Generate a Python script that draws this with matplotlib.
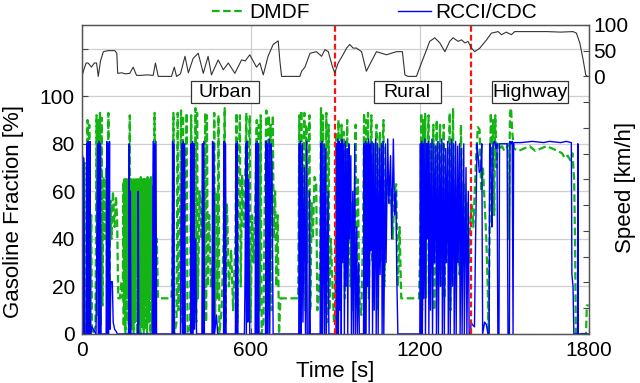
import numpy as np
import matplotlib

matplotlib.use("Agg")
import matplotlib.pyplot as plt
from matplotlib.patches import Rectangle
from matplotlib.ticker import FixedLocator, FixedFormatter

plt.rcParams["font.family"] = ["Liberation Sans", "DejaVu Sans"]

# DMDF gasoline fraction [%] as (time s, value) pairs
DMDF_URBAN = [
    (0, 25), (3, 70), (6, 8), (9, 72), (12, 0), (16, 3), (20, 90), (23, 0), (26, 88), (29, 4),
    (33, 50), (36, 0), (48, 3), (52, 92), (55, 8), (58, 90), (61, 18), (64, 93), (67, 4),
    (70, 91), (73, 12), (77, 66), (81, 40), (86, 70), (90, 5), (94, 93), (97, 12), (101, 56),
    (105, 40), (110, 60), (116, 45), (121, 58), (125, 48), (129, 15), (135, 15), (140, 22),
    (145, 15), (147, 64), (148.5, 3), (150, 65), (151.5, 10), (153, 63), (154.5, 0),
    (156, 66), (157.5, 15), (159, 64), (160.5, 5), (162, 65), (163.5, 20), (165, 62),
    (166.5, 0), (168, 60), (170, 92), (171.5, 5), (173, 65), (174.5, 15), (176, 64),
    (177.5, 2), (179, 66), (180.5, 10), (182, 63), (183.5, 0), (185, 65), (186.5, 20),
    (188, 64), (189.5, 5), (191, 65), (192.5, 12), (194, 63), (195.5, 0), (197, 66),
    (198.5, 25), (200, 64), (201.5, 5), (203, 65), (204.5, 15), (206, 62), (207.5, 0),
    (209, 66), (210.5, 10), (212, 64), (213.5, 3), (215, 65), (216.5, 18), (218, 63),
    (219.5, 0), (221, 66), (222.5, 12), (224, 64), (225.5, 2), (227, 65), (228.5, 20),
    (230, 63), (231.5, 0), (233, 66), (234.5, 15), (236, 64), (237.5, 5), (239, 65),
    (240.5, 22), (242, 63), (243.5, 0), (245, 66), (246.5, 15), (248, 62), (249.5, 3),
    (251, 60), (254, 55), (258, 93), (262, 5), (266, 40),
    (270, 15), (318, 15), (322, 30), (325, 93), (328, 0), (336, 5), (340, 93), (343, 10),
    (348, 40), (352, 94), (355, 5), (359, 92), (362, 20), (367, 60), (372, 93), (375, 0),
    (384, 3), (388, 92), (391, 10), (395, 65), (399, 30), (403, 95), (406, 5), (409, 93),
    (412, 15), (418, 60), (424, 40), (430, 63), (434, 10), (438, 93), (441, 5), (444, 92),
    (447, 20), (452, 50), (458, 20), (466, 30), (470, 93), (473, 5), (477, 60), (481, 15),
    (485, 92), (488, 0), (496, 10), (503, 40), (507, 95), (510, 5), (515, 55), (522, 20),
    (530, 35), (537, 10), (545, 40), (549, 93), (552, 5), (556, 66), (561, 92), (564, 20),
    (569, 67), (575, 45), (580, 68), (584, 93), (587, 10), (591, 66), (596, 92), (599, 5),
    (604, 50), (610, 30), (616, 60), (621, 90), (624, 5), (628, 88), (631, 10), (635, 92),
    (638, 0), (645, 5), (650, 65), (655, 94), (658, 10), (663, 92), (666, 30), (670, 88),
    (674, 10), (678, 92), (681, 40), (686, 60), (690, 20), (695, 50), (700, 0), (705, 15),
    (768, 15), (772, 92), (775, 5), (779, 94), (782, 20), (786, 70), (790, 93), (793, 10),
    (797, 88), (800, 30), (804, 65), (808, 92), (811, 10), (816, 55), (820, 40), (826, 66),
    (832, 64), (836, 10), (840, 15), (846, 30), (849, 95), (852, 5), (856, 92), (859, 20),
    (864, 60), (868, 93), (871, 5), (876, 88), (879, 10), (884, 40), (890, 20), (895, 5),
    (900, 10),
]
DMDF_RURAL = [
    (904, 85), (907, 10), (911, 90), (914, 20), (918, 70), (922, 88), (925, 40), (930, 85),
    (934, 15), (938, 60), (942, 90), (945, 30), (950, 70), (954, 20), (958, 55), (963, 10),
    (968, 45), (972, 88), (975, 25), (980, 65), (985, 15), (992, 8), (998, 40), (1002, 93),
    (1005, 20), (1009, 90), (1012, 40), (1016, 93), (1019, 15), (1024, 70), (1028, 92),
    (1031, 30), (1036, 80), (1040, 45), (1046, 88), (1049, 10), (1054, 60), (1058, 85),
    (1062, 30), (1066, 75), (1071, 90), (1074, 20), (1080, 65), (1086, 60), (1092, 55),
    (1098, 62), (1104, 40), (1110, 60), (1116, 63), (1122, 20), (1128, 45), (1134, 15),
    (1140, 15), (1197, 15), (1202, 40), (1205, 93), (1208, 10), (1212, 90), (1215, 30),
    (1219, 93), (1222, 15), (1227, 70), (1231, 92), (1234, 25), (1239, 80), (1243, 40),
    (1248, 88), (1251, 10), (1256, 60), (1260, 90), (1263, 30), (1268, 75), (1272, 88),
    (1275, 20), (1280, 65), (1285, 88), (1288, 15), (1293, 62), (1298, 63), (1302, 30),
    (1306, 93), (1309, 10), (1314, 60), (1318, 95), (1321, 20), (1326, 63), (1331, 40),
    (1336, 62), (1341, 25), (1346, 88), (1350, 45), (1356, 63), (1362, 40), (1368, 55),
    (1374, 30), (1380, 50),
]
DMDF_HIGHWAY = [
    (1385, 55), (1390, 45), (1395, 60), (1400, 75), (1406, 87), (1412, 86), (1418, 60),
    (1424, 70), (1430, 55), (1436, 40), (1441, 20), (1444, 0), (1448, 45), (1452, 93),
    (1456, 70), (1460, 90), (1464, 50), (1468, 92), (1472, 70), (1477, 80), (1484, 78),
    (1492, 79), (1500, 77), (1508, 78), (1513, 80), (1516, 40), (1520, 93), (1524, 95),
    (1528, 85), (1534, 78), (1550, 77), (1570, 78), (1590, 79), (1610, 77), (1630, 78),
    (1650, 79), (1670, 78), (1690, 77), (1705, 76), (1715, 74), (1725, 75), (1735, 73),
    (1742, 76), (1748, 65), (1751, 40), (1754, 0), (1790, 0), (1793, 12), (1800, 12),
]

# RCCI/CDC gasoline fraction [%]
RCCI_URBAN = [
    (0, 0), (2, 75), (4, 0), (7, 74), (9, 0), (15, 0), (17, 80), (19, 0), (21, 81), (23, 0),
    (25, 80), (27, 0), (29, 81), (31, 0), (35, 3), (50, 0), (56, 80), (58, 0), (61, 81),
    (63, 0), (66, 80), (68, 0), (86, 0), (88, 81), (90, 0), (93, 80), (95, 0), (98, 81),
    (100, 2), (103, 22), (108, 22), (111, 5), (116, 2), (122, 1), (126, 0), (166, 0),
    (168, 80), (170, 0), (172, 60), (174, 0), (198, 0), (200, 60), (202, 0), (250, 0),
    (253, 81), (255, 0), (258, 80), (260, 0), (263, 81), (265, 0), (320, 0), (322, 81),
    (324, 0), (326, 80), (328, 0), (350, 0), (352, 45), (355, 80), (357, 0), (360, 81),
    (362, 0), (365, 80), (367, 0), (386, 0), (388, 80), (390, 0), (393, 81), (395, 0),
    (398, 80), (400, 2), (404, 40), (407, 0), (426, 0), (428, 80), (430, 0), (433, 81),
    (435, 0), (462, 0), (464, 81), (466, 0), (469, 80), (471, 0), (478, 8), (482, 0),
    (503, 0), (505, 81), (507, 0), (510, 80), (512, 0), (545, 0), (547, 80), (549, 0),
    (552, 81), (554, 0), (577, 0), (579, 20), (582, 80), (584, 0), (587, 81), (589, 5),
    (592, 65), (596, 0), (615, 0), (617, 80), (619, 0), (622, 81), (624, 0), (627, 80),
    (629, 0), (652, 0), (654, 81), (656, 0), (659, 80), (661, 0), (665, 82), (667, 0),
    (672, 80), (675, 70), (679, 0), (770, 0), (772, 80), (774, 0), (777, 81), (779, 0),
    (783, 80), (785, 5), (790, 70), (794, 0), (798, 81), (800, 0), (806, 0), (808, 60),
    (811, 0), (846, 0), (848, 80), (850, 0), (853, 81), (855, 0), (860, 80), (862, 0),
    (866, 78), (868, 0), (874, 60), (877, 0), (900, 0),
]
RCCI_RURAL = [
    (902, 0), (904, 80), (906, 0), (909, 82), (911, 0), (914, 81), (916, 10), (919, 80),
    (921, 0), (924, 82), (926, 30), (930, 80), (932, 0), (936, 81), (938, 20), (942, 78),
    (944, 0), (948, 80), (950, 40), (955, 75), (957, 0), (962, 60), (964, 0), (969, 80),
    (971, 0), (976, 45), (978, 0), (983, 30), (985, 0), (1000, 0), (1002, 80), (1004, 0),
    (1007, 81), (1009, 0), (1012, 80), (1014, 20), (1018, 82), (1020, 0), (1024, 80),
    (1026, 35), (1030, 81), (1032, 0), (1036, 80), (1038, 10), (1043, 82), (1045, 0),
    (1050, 80), (1052, 0), (1057, 78), (1059, 25), (1064, 80), (1066, 0), (1070, 81),
    (1072, 0), (1078, 80), (1080, 30), (1086, 82), (1090, 55), (1096, 75), (1100, 40),
    (1106, 82), (1110, 50), (1115, 60), (1118, 25), (1122, 0), (1200, 0), (1202, 80),
    (1204, 0), (1207, 81), (1209, 0), (1212, 80), (1214, 15), (1218, 82), (1220, 0),
    (1224, 80), (1226, 40), (1230, 81), (1232, 0), (1236, 80), (1238, 10), (1243, 82),
    (1245, 0), (1250, 80), (1252, 30), (1257, 79), (1259, 0), (1264, 81), (1266, 0),
    (1271, 80), (1273, 20), (1278, 82), (1280, 0), (1285, 80), (1287, 0), (1292, 78),
    (1294, 30), (1299, 81), (1301, 0), (1306, 80), (1308, 0), (1313, 82), (1315, 20),
    (1320, 80), (1322, 0), (1327, 81), (1329, 0), (1334, 79), (1336, 30), (1341, 80),
    (1343, 0), (1348, 78), (1350, 0), (1356, 80), (1358, 0), (1364, 70), (1367, 0),
    (1372, 60), (1375, 0), (1380, 0),
]
RCCI_HIGHWAY = [
    (1382, 5), (1386, 4), (1394, 3), (1398, 40), (1403, 80), (1407, 75), (1411, 68),
    (1416, 69), (1420, 80), (1423, 0), (1430, 5), (1436, 4), (1442, 0), (1446, 0),
    (1448, 80), (1452, 78), (1456, 45), (1458, 55), (1460, 80), (1466, 81), (1470, 78),
    (1474, 80), (1477, 0), (1481, 0), (1483, 80), (1510, 80), (1513, 0), (1518, 0),
    (1520, 81), (1524, 80), (1528, 81), (1531, 0), (1533, 80.5), (1560, 80.5), (1600, 81),
    (1640, 80.5), (1660, 81), (1700, 80.5), (1720, 81), (1738, 80.5), (1740, 25),
    (1744, 20), (1747, 0), (1760, 0), (1761, 80), (1762, 0), (1800, 0),
]

# vehicle speed [km/h]
SPEED = [
    (0, 0), (8, 15), (15, 26), (22, 26), (34, 18), (44, 26), (52, 26), (58, 0), (66, 30),
    (76, 48), (93, 50), (117, 50), (124, 45), (127, 6), (140, 7), (155, 5), (170, 6),
    (182, 18), (194, 2), (210, 2), (230, 3), (253, 2), (261, 26), (271, 0), (318, 0),
    (328, 18), (336, 0), (350, 5), (366, 39), (378, 7), (395, 35), (413, 45), (431, 6),
    (448, 39), (460, 3), (484, 32), (502, 13), (520, 26), (543, 6), (567, 32), (580, 30),
    (596, 42), (620, 18), (632, 26), (644, 3), (661, 39), (679, 62), (697, 69), (703, 30),
    (709, 0), (774, 0), (780, 10), (792, 18), (810, 45), (833, 48), (851, 39), (863, 52),
    (875, 48), (890, 18), (898, 7), (910, 26), (925, 40), (940, 55), (951, 62), (963, 55),
    (975, 55), (993, 48), (1010, 10), (1022, 23), (1046, 48), (1064, 45), (1081, 42),
    (1099, 45), (1117, 48), (1138, 48), (1147, 3), (1158, 0), (1188, 0), (1200, 18),
    (1224, 52), (1235, 68), (1253, 75), (1271, 65), (1289, 48), (1306, 68), (1318, 75),
    (1336, 68), (1348, 71), (1360, 65), (1371, 68), (1383, 55), (1395, 48), (1413, 55),
    (1437, 71), (1454, 84), (1478, 87), (1490, 81), (1507, 86), (1525, 81), (1537, 87),
    (1600, 87), (1650, 87), (1700, 86), (1744, 87), (1756, 84), (1768, 65), (1780, 32),
    (1789, 3), (1795, 0),
]

PHASE_BOUNDS = [900, 1380]
PHASES = ["Urban", "Rural", "Highway"]
PHASE_BOX_T = [(387, 628), (1037, 1274), (1456, 1725)]  # box extents along time axis


def xy(*parts):
    pts = np.array([p for part in parts for p in part], dtype=float)
    return pts[:, 0], pts[:, 1]


dmdf_t, dmdf_v = xy(DMDF_URBAN, DMDF_RURAL, DMDF_HIGHWAY)
rcci_t, rcci_v = xy(RCCI_URBAN, RCCI_RURAL, RCCI_HIGHWAY)
spd_t, spd_v = xy(SPEED)

green = "#14b414"
blue = "#0000ff"

fig = plt.figure(figsize=(6.4, 3.83), dpi=100)
ax = fig.add_axes([0.128, 0.128, 0.792, 0.807])

ax.plot(dmdf_t, dmdf_v, color=green, lw=1.6, ls=(0, (3.4, 1.6)), label="DMDF", zorder=2)
ax.plot(rcci_t, rcci_v, color=blue, lw=1.0, label="RCCI/CDC", zorder=3)
for b in PHASE_BOUNDS:
    ax.axvline(b, color="#ff1010", lw=1.6, ls=(0, (2.6, 1.4)), zorder=6)

ax.set_xlim(0, 1800)
ax.set_ylim(0, 130)
ax.set_xticks([0, 600, 1200, 1800])
ax.yaxis.set_major_locator(FixedLocator([0, 20, 40, 60, 80, 100, 120]))
ax.yaxis.set_major_formatter(FixedFormatter(["0", "20", "40", "60", "80", "100", ""]))
ax.tick_params(direction="in", labelsize=15, length=4, color="#444444", pad=5)
ax.grid(True, color="#cfcfcf", lw=0.9)
ax.set_axisbelow(True)
for s in ax.spines.values():
    s.set_color("#555555")
    s.set_linewidth(0.9)

# phase boxes
for name, (t0, t1) in zip(PHASES, PHASE_BOX_T):
    ax.add_patch(Rectangle((t0, 97.2), t1 - t0, 9.3, facecolor="white",
                           edgecolor="#333333", lw=0.9, zorder=5))
    ax.text((t0 + t1) / 2, 101.7, name, ha="center", va="center", fontsize=14, zorder=6)

ax2 = ax.twinx()
ax2.plot(spd_t, spd_v, color="#333333", lw=0.8)
ax2.set_ylim(-500, 100)
ax2.yaxis.set_major_locator(FixedLocator(np.arange(-500, 101, 50)))
ax2.yaxis.set_major_formatter(
    FixedFormatter([""] * 10 + ["0", "50", "100"]))
ax2.tick_params(direction="in", labelsize=15, length=4, color="#444444", pad=3)
for s in ax2.spines.values():
    s.set_color("#555555")
    s.set_linewidth(0.9)

fig.text(14 / 640, 1 - 212 / 383, "Gasoline Fraction [%]", rotation=90,
         ha="center", va="center", fontsize=16)
fig.text(625 / 640, 1 - 187 / 383, "Speed [km/h]", rotation=90,
         ha="center", va="center", fontsize=16)
fig.text(335 / 640, 1 - 371 / 383, "Time [s]", ha="center", va="center", fontsize=16)

fig.legend(loc="center", bbox_to_anchor=(0.585, 1 - 13 / 383), ncol=2, frameon=False,
           fontsize=15, handlelength=1.6, handletextpad=0.2, columnspacing=4.2,
           borderaxespad=0, borderpad=0)

fig.savefig("out.png", dpi=100)
